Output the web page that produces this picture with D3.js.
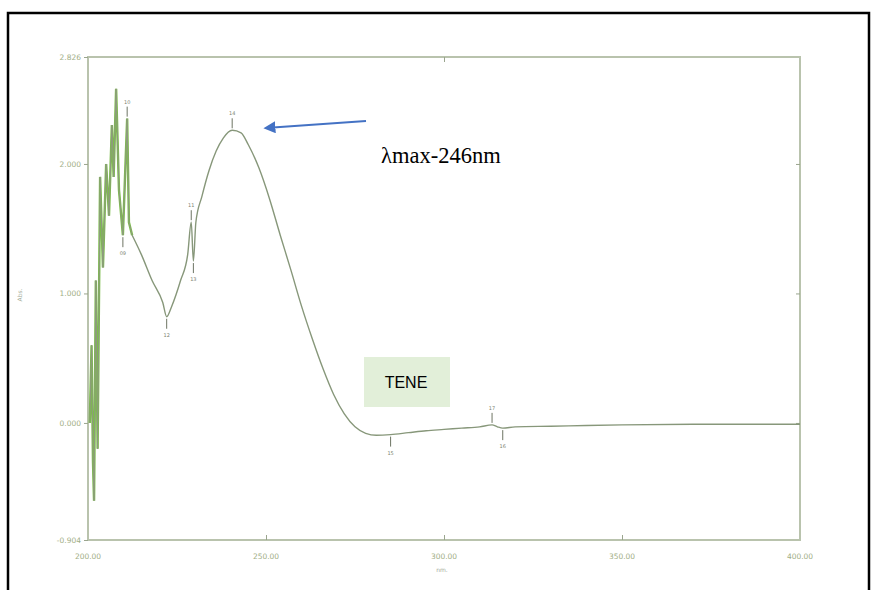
<!DOCTYPE html>
<html lang="en">
<head>
    <meta charset="UTF-8">
    <script src="https://d3js.org/d3.v7.min.js"></script>
    <title>TENE UV spectrum</title>
    <style>
        body { margin: 0; background: #fff; }
        svg { display: block; }
    </style>
</head>
<body>
    <script>
        // spectrum
        const wavelength = [200.5, 201.0, 201.4, 201.7, 202.2, 202.7, 203.4, 204.2, 205.1, 205.9,
            206.7, 207.2, 207.9, 208.7, 209.8, 210.4, 211.0, 211.5, 212.4, 215, 218, 221, 222.1,
            223.5, 226, 228, 229, 229.6, 230.3, 232, 234, 236, 238, 240.5, 243, 245, 248, 251,
            254, 257, 260, 263, 266, 269, 272, 275, 278, 281, 285, 290, 295, 300, 305, 310,
            313.5, 315, 316.5, 320, 330, 340, 350, 370, 400];
        const absorbance = [0.0, 0.6, -0.3, -0.6, 1.1, -0.2, 1.9, 1.2, 2.0, 1.6,
            2.3, 1.9, 2.58, 1.8, 1.45, 1.9, 2.35, 1.55, 1.45, 1.3, 1.1, 0.93, 0.82,
            0.9, 1.1, 1.3, 1.55, 1.25, 1.55, 1.75, 1.95, 2.1, 2.2, 2.26, 2.24, 2.15, 1.97, 1.73,
            1.45, 1.18, 0.9, 0.65, 0.42, 0.22, 0.07, -0.03, -0.08, -0.095, -0.09, -0.075, -0.06, -0.05, -0.04, -0.03,
            -0.015, -0.03, -0.04, -0.03, -0.025, -0.02, -0.015, -0.01, -0.01];

        const peakNm = [211.0, 229.0, 240.5, 313.5];
        const peakLabels = ["10", "11", "14", "17"];
        const valleyNm = [209.8, 222.1, 229.6, 285, 316.5];
        const valleyLabels = ["09", "12", "13", "15", "16"];

        const yTicks = [2.826, 2.000, 1.000, 0.000, -0.904];
        const yTickLabels = ["2.826", "2.000", "1.000", "0.000", "-0.904"];
        const xTicks = [200, 250, 300, 350, 400];
        const xTickLabels = ["200.00", "250.00", "300.00", "350.00", "400.00"];

        const w = 875, h = 590;
        const svg = d3.select("body").append("svg").attr("width", w).attr("height", h);

        // outer black frame
        svg.append("path")
            .attr("d", "M8,590 L8,13 L869,13 L869,590")
            .attr("fill", "none")
            .attr("stroke", "#000")
            .attr("stroke-width", 2.5);

        const x = d3.scaleLinear().domain([200, 400]).range([88, 800]);
        const y = d3.scaleLinear().domain([-0.904, 2.826]).range([540, 57]);

        const frameCol = "#b9c3ad";
        const textCol = "#9fae86";

        // plot frame
        svg.append("rect")
            .attr("x", x(200)).attr("y", y(2.826))
            .attr("width", x(400) - x(200)).attr("height", y(-0.904) - y(2.826))
            .attr("fill", "none").attr("stroke", frameCol).attr("stroke-width", 2);

        // axes
        const yAxis = svg.append("g")
            .attr("transform", `translate(${x(200)},0)`)
            .call(d3.axisLeft(y).tickValues(yTicks).tickSize(4).tickFormat((d, i) => yTickLabels[i]));
        const yAxisR = svg.append("g")
            .attr("transform", `translate(${x(400)},0)`)
            .call(d3.axisLeft(y).tickValues([2, 1, 0]).tickSize(4).tickFormat(""));
        const xAxis = svg.append("g")
            .attr("transform", `translate(0,${y(-0.904)})`)
            .call(d3.axisTop(x).tickValues([250, 300, 350]).tickSize(5).tickFormat(""));
        const xAxisT = svg.append("g")
            .attr("transform", `translate(0,${y(2.826)})`)
            .call(d3.axisBottom(x).tickValues([300]).tickSize(5).tickFormat(""));

        [yAxis, yAxisR, xAxis, xAxisT].forEach(g => {
            g.select(".domain").remove();
            g.selectAll("line").attr("stroke", "#9aa58e");
            g.selectAll("text")
                .attr("fill", textCol)
                .attr("font-family", "DejaVu Sans")
                .attr("font-size", 7.5);
        });

        svg.append("g").selectAll("text")
            .data(xTicks)
            .join("text")
            .attr("x", d => x(d))
            .attr("y", 559)
            .attr("text-anchor", "middle")
            .attr("fill", textCol)
            .attr("font-family", "DejaVu Sans")
            .attr("font-size", 7.5)
            .text((d, i) => xTickLabels[i]);

        svg.append("text")
            .attr("x", 442).attr("y", 572)
            .attr("text-anchor", "middle")
            .attr("fill", "#a3ab98")
            .attr("font-family", "DejaVu Sans")
            .attr("font-size", 6)
            .text("nm.");

        svg.append("text")
            .attr("transform", "translate(22,295) rotate(-90)")
            .attr("text-anchor", "middle")
            .attr("fill", "#a3ab98")
            .attr("font-family", "DejaVu Sans")
            .attr("font-size", 6)
            .text("Abs.");

        // spectrum
        const pts = wavelength.map((d, i) => [d, absorbance[i]]);
        const line = d3.line().x(d => x(d[0])).y(d => y(d[1]));
        const smooth = d3.line().x(d => x(d[0])).y(d => y(d[1])).curve(d3.curveMonotoneX);

        // noisy short-wavelength part
        svg.append("path")
            .datum(pts.filter(d => d[0] <= 212.4))
            .attr("d", line)
            .attr("fill", "none")
            .attr("stroke", "#7cbd4a")
            .attr("stroke-width", 2.4);
        svg.append("path")
            .datum(pts.filter(d => d[0] <= 212.4))
            .attr("d", line)
            .attr("fill", "none")
            .attr("stroke", "#8e9a80")
            .attr("stroke-width", 1);

        svg.append("path")
            .datum(pts.filter(d => d[0] >= 212.4))
            .attr("d", smooth)
            .attr("fill", "none")
            .attr("stroke", "#87977a")
            .attr("stroke-width", 1.4);

        const yAt = nm => absorbance[wavelength.indexOf(nm)];

        // peak markers: arrow from above
        const peaks = svg.append("g").selectAll("g")
            .data(peakNm)
            .join("g");
        peaks.append("line")
            .attr("x1", d => x(d)).attr("x2", d => x(d))
            .attr("y1", d => y(yAt(d)) - 12).attr("y2", d => y(yAt(d)) - 2)
            .attr("stroke", "#6d7463").attr("stroke-width", 1);
        peaks.append("text")
            .attr("x", d => x(d)).attr("y", d => y(yAt(d)) - 15)
            .attr("text-anchor", "middle")
            .attr("fill", "#7c8470")
            .attr("font-family", "DejaVu Sans")
            .attr("font-size", 5)
            .text((d, i) => peakLabels[i]);

        // valley markers: arrow from below
        const valleys = svg.append("g").selectAll("g")
            .data(valleyNm)
            .join("g");
        valleys.append("line")
            .attr("x1", d => x(d)).attr("x2", d => x(d))
            .attr("y1", d => y(yAt(d)) + 12).attr("y2", d => y(yAt(d)) + 2)
            .attr("stroke", "#6d7463").attr("stroke-width", 1);
        valleys.append("text")
            .attr("x", d => x(d)).attr("y", d => y(yAt(d)) + 20)
            .attr("text-anchor", "middle")
            .attr("fill", "#7c8470")
            .attr("font-family", "DejaVu Sans")
            .attr("font-size", 5)
            .text((d, i) => valleyLabels[i]);

        // annotation arrow and text
        svg.append("defs").append("marker")
            .attr("id", "head")
            .attr("viewBox", "0 0 10 10")
            .attr("refX", 2).attr("refY", 5)
            .attr("markerWidth", 6).attr("markerHeight", 6)
            .attr("orient", "auto")
            .append("path")
            .attr("d", "M0,0 L10,5 L0,10 z")
            .attr("fill", "#4472c4");

        svg.append("line")
            .attr("x1", 366).attr("y1", 121)
            .attr("x2", 273).attr("y2", 127.5)
            .attr("stroke", "#4472c4")
            .attr("stroke-width", 2)
            .attr("marker-end", "url(#head)");

        svg.append("text")
            .attr("x", 381).attr("y", 163)
            .attr("font-family", "Liberation Serif")
            .attr("font-size", 22.5)
            .attr("fill", "#000")
            .text("λmax-246nm");

        svg.append("rect")
            .attr("x", 364).attr("y", 357)
            .attr("width", 86).attr("height", 50)
            .attr("fill", "#e2efd9");
        svg.append("text")
            .attr("x", 406).attr("y", 388)
            .attr("text-anchor", "middle")
            .attr("font-family", "Liberation Sans")
            .attr("font-size", 16)
            .attr("fill", "#000")
            .text("TENE");
    </script>
</body>
</html>
